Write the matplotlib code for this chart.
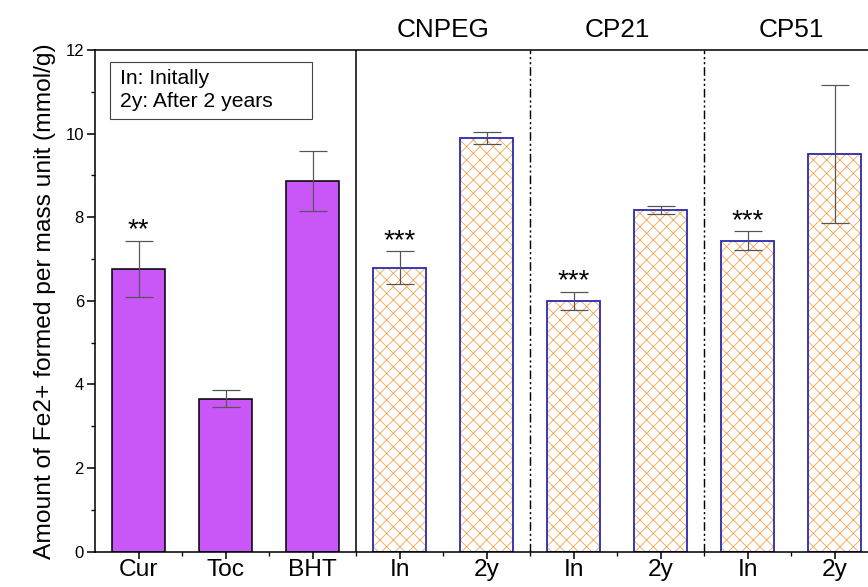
import matplotlib

matplotlib.use("Agg")

import matplotlib.pyplot as plt
import numpy as np

plt.rcParams["font.family"] = ["Liberation Sans", "DejaVu Sans"]
plt.rcParams["hatch.linewidth"] = 0.8

# antioxidant references (solid bars)
ref_labels = ["Cur", "Toc", "BHT"]
ref_values = [6.77, 3.66, 8.87]
ref_errors = [0.67, 0.21, 0.72]
ref_stars = ["**", "", ""]

# capsules: initially / after 2 years
groups = ["CNPEG", "CP21", "CP51"]
cap_labels = ["In", "2y", "In", "2y", "In", "2y"]
cap_values = [6.79, 9.89, 6.00, 8.17, 7.44, 9.52]
cap_errors = [0.40, 0.14, 0.22, 0.09, 0.22, 1.65]
cap_stars = ["***", "", "***", "", "***", ""]

PURPLE = "#c957f7"
ORANGE = "#f7a856"
BLUE = "#2626b0"
DPI = 80

fig = plt.figure(figsize=(868 / DPI, 587 / DPI), dpi=DPI)
ax = fig.add_axes([95 / 868, 1 - 551.5 / 587, 783 / 868, 501.5 / 587])

x_ref = np.arange(1, len(ref_labels) + 1)
x_cap = np.arange(len(ref_labels) + 1, len(ref_labels) + len(cap_labels) + 1)
width = 0.6
err_kw = dict(ecolor="#555555", elinewidth=1.1, capsize=13, capthick=1.1)

ax.bar(x_ref, ref_values, width=width, color=PURPLE, edgecolor="black",
       linewidth=1.4, zorder=2)
ax.errorbar(x_ref, ref_values, yerr=ref_errors, fmt="none", zorder=3, **err_kw)

ax.bar(x_cap, cap_values, width=width, color="white", edgecolor=ORANGE,
       hatch="xx", linewidth=0, zorder=2)
ax.bar(x_cap, cap_values, width=width, fill=False, edgecolor=BLUE,
       linewidth=1.6, zorder=2.5)
ax.errorbar(x_cap, cap_values, yerr=cap_errors, fmt="none", zorder=3, **err_kw)

for xs, vals, errs, stars in [(x_ref, ref_values, ref_errors, ref_stars),
                              (x_cap, cap_values, cap_errors, cap_stars)]:
    for xi, v, e, s in zip(xs, vals, errs, stars):
        if s:
            ax.text(xi, v + e + 0.07, s, ha="center", va="baseline", fontsize=25)

# separators
ax.axvline(len(ref_labels) + 0.5, color="black", linewidth=1.4, zorder=1)
for k in range(1, len(groups)):
    ax.axvline(len(ref_labels) + 2 * k + 0.5, color="black", linewidth=1.3,
               linestyle=(0, (6, 2, 1.5, 2, 1.5, 2)), zorder=1)

for k, g in enumerate(groups):
    ax.text(len(ref_labels) + 2 * k + 1.5, 12.48, g, ha="center", va="center",
            fontsize=23.5, clip_on=False)

# key box
ax.text(0.79, 11.33, "In: Initally", ha="left", va="center", fontsize=19)
ax.text(0.79, 10.76, "2y: After 2 years", ha="left", va="center", fontsize=19)
ax.add_patch(plt.Rectangle((0.672, 10.35), 2.32, 1.36, fill=False,
                           edgecolor="#444444", linewidth=1.0))

ax.set_xlim(0.5, len(ref_labels) + len(cap_labels) + 0.5)
ax.set_ylim(0, 12)
ax.set_xticks(np.concatenate([x_ref, x_cap]), labels=ref_labels + cap_labels)
ax.set_xticks(np.arange(1.5, 9.5, 1), minor=True)
ax.set_yticks(np.arange(0, 13, 2))
ax.set_yticks(np.arange(1, 12, 2), minor=True)
ax.tick_params(axis="x", which="major", labelsize=22, length=6, width=1.4, pad=0.5)
ax.tick_params(axis="y", which="major", labelsize=15, length=7, width=1.4, pad=3)
ax.tick_params(which="minor", length=4, width=1.2)
ax.set_ylabel("Amount of Fe2+ formed per mass unit (mmol/g)", fontsize=22,
              labelpad=8)
for spine in ax.spines.values():
    spine.set_linewidth(1.4)

fig.savefig("out.png", dpi=DPI, facecolor="white")
